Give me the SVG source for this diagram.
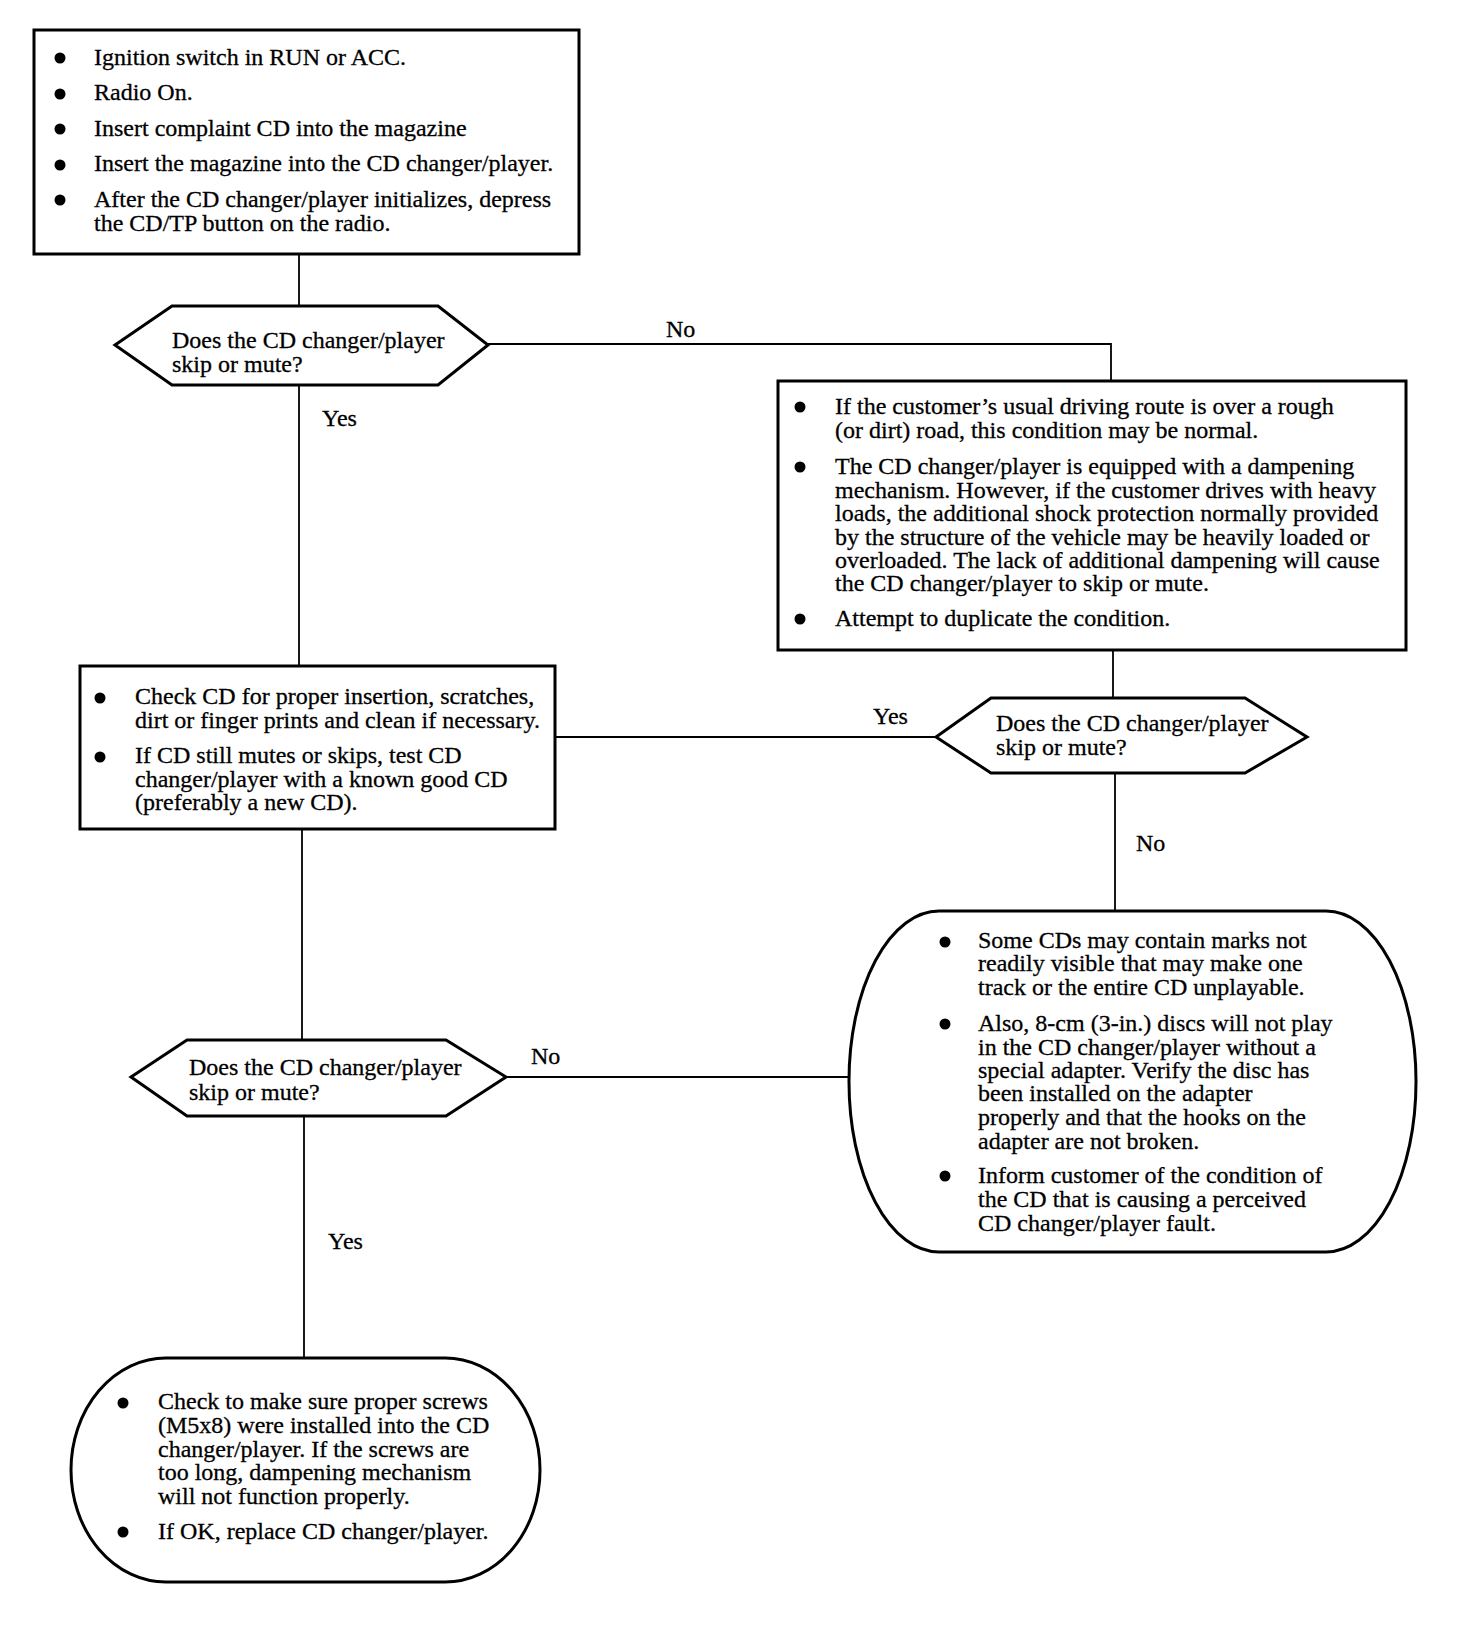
<svg xmlns="http://www.w3.org/2000/svg" width="1472" height="1626" viewBox="0 0 1472 1626">
<style>
.box{fill:#fff;stroke:#000;stroke-width:3}
.conn{fill:none;stroke:#000;stroke-width:1.8}
text{font-family:"Liberation Serif","Times New Roman",serif;font-size:24px;fill:#000;stroke:#000;stroke-width:0.3}
.b{fill:#000}
</style>
<rect width="1472" height="1626" fill="#fff"/>
<g id="connectors">
<path class="conn" d="M299,254 V306"/>
<path class="conn" d="M488,344 H1111 V381"/>
<path class="conn" d="M299,385 V666"/>
<path class="conn" d="M1113,650 V698"/>
<path class="conn" d="M936,737 H555"/>
<path class="conn" d="M1115,773 V911"/>
<path class="conn" d="M302,829 V1040"/>
<path class="conn" d="M506,1077 H849"/>
<path class="conn" d="M304,1116 V1358"/>
<text x="666" y="337">No</text>
<text x="322" y="426">Yes</text>
<text x="873" y="724">Yes</text>
<text x="1136" y="851">No</text>
<text x="531" y="1064">No</text>
<text x="328" y="1249">Yes</text>
</g>
<g id="start">
<rect class="box" x="34" y="30" width="545" height="224"/>
<circle class="b" cx="60" cy="58" r="5.5"/>
<circle class="b" cx="60" cy="94" r="5.5"/>
<circle class="b" cx="60" cy="129" r="5.5"/>
<circle class="b" cx="60" cy="165" r="5.5"/>
<circle class="b" cx="60" cy="200" r="5.5"/>
<text x="94" y="65">Ignition switch in RUN or ACC.</text>
<text x="94" y="100">Radio On.</text>
<text x="94" y="136">Insert complaint CD into the magazine</text>
<text x="94" y="171">Insert the magazine into the CD changer/player.</text>
<text x="94" y="207">After the CD changer/player initializes, depress</text>
<text x="94" y="231">the CD/TP button on the radio.</text>
</g>
<g id="decision1">
<polygon class="box" points="115,345 172,306 438,306 488,345 438,385 172,385"/>
<text x="172" y="348">Does the CD changer/player</text>
<text x="172" y="372">skip or mute?</text>
</g>
<g id="normal-condition">
<rect class="box" x="778" y="381" width="628" height="269"/>
<circle class="b" cx="800" cy="407" r="5.5"/>
<circle class="b" cx="800" cy="467" r="5.5"/>
<circle class="b" cx="800" cy="619" r="5.5"/>
<text x="835" y="414">If the customer’s usual driving route is over a rough</text>
<text x="835" y="438">(or dirt) road, this condition may be normal.</text>
<text x="835" y="474">The CD changer/player is equipped with a dampening</text>
<text x="835" y="498">mechanism. However, if the customer drives with heavy</text>
<text x="835" y="521">loads, the additional shock protection normally provided</text>
<text x="835" y="545">by the structure of the vehicle may be heavily loaded or</text>
<text x="835" y="568">overloaded. The lack of additional dampening will cause</text>
<text x="835" y="591">the CD changer/player to skip or mute.</text>
<text x="835" y="626">Attempt to duplicate the condition.</text>
</g>
<g id="decision2">
<polygon class="box" points="936,737 991,698 1245,698 1307,737 1245,773 991,773"/>
<text x="996" y="731">Does the CD changer/player</text>
<text x="996" y="755">skip or mute?</text>
</g>
<g id="check-cd">
<rect class="box" x="80" y="666" width="475" height="163"/>
<circle class="b" cx="100" cy="698" r="5.5"/>
<circle class="b" cx="100" cy="757" r="5.5"/>
<text x="135" y="704">Check CD for proper insertion, scratches,</text>
<text x="135" y="728">dirt or finger prints and clean if necessary.</text>
<text x="135" y="763">If CD still mutes or skips, test CD</text>
<text x="135" y="787">changer/player with a known good CD</text>
<text x="135" y="810">(preferably a new CD).</text>
</g>
<g id="decision3">
<polygon class="box" points="131,1077 187,1040 446,1040 506,1077 446,1116 187,1116"/>
<text x="189" y="1075">Does the CD changer/player</text>
<text x="189" y="1100">skip or mute?</text>
</g>
<g id="inform-customer">
<rect class="box" x="849" y="911" width="567" height="341" rx="90" ry="170"/>
<circle class="b" cx="945" cy="942" r="5.5"/>
<circle class="b" cx="945" cy="1024" r="5.5"/>
<circle class="b" cx="945" cy="1176" r="5.5"/>
<text x="978" y="948">Some CDs may contain marks not</text>
<text x="978" y="971">readily visible that may make one</text>
<text x="978" y="995">track or the entire CD unplayable.</text>
<text x="978" y="1031">Also, 8-cm (3-in.) discs will not play</text>
<text x="978" y="1055">in the CD changer/player without a</text>
<text x="978" y="1078">special adapter. Verify the disc has</text>
<text x="978" y="1101">been installed on the adapter</text>
<text x="978" y="1125">properly and that the hooks on the</text>
<text x="978" y="1149">adapter are not broken.</text>
<text x="978" y="1183">Inform customer of the condition of</text>
<text x="978" y="1207">the CD that is causing a perceived</text>
<text x="978" y="1231">CD changer/player fault.</text>
</g>
<g id="replace">
<rect class="box" x="71" y="1358" width="469" height="224" rx="95" ry="112"/>
<circle class="b" cx="123" cy="1403" r="5.5"/>
<circle class="b" cx="123" cy="1532" r="5.5"/>
<text x="158" y="1409">Check to make sure proper screws</text>
<text x="158" y="1433">(M5x8) were installed into the CD</text>
<text x="158" y="1457">changer/player. If the screws are</text>
<text x="158" y="1480">too long, dampening mechanism</text>
<text x="158" y="1504">will not function properly.</text>
<text x="158" y="1539">If OK, replace CD changer/player.</text>
</g>
</svg>
